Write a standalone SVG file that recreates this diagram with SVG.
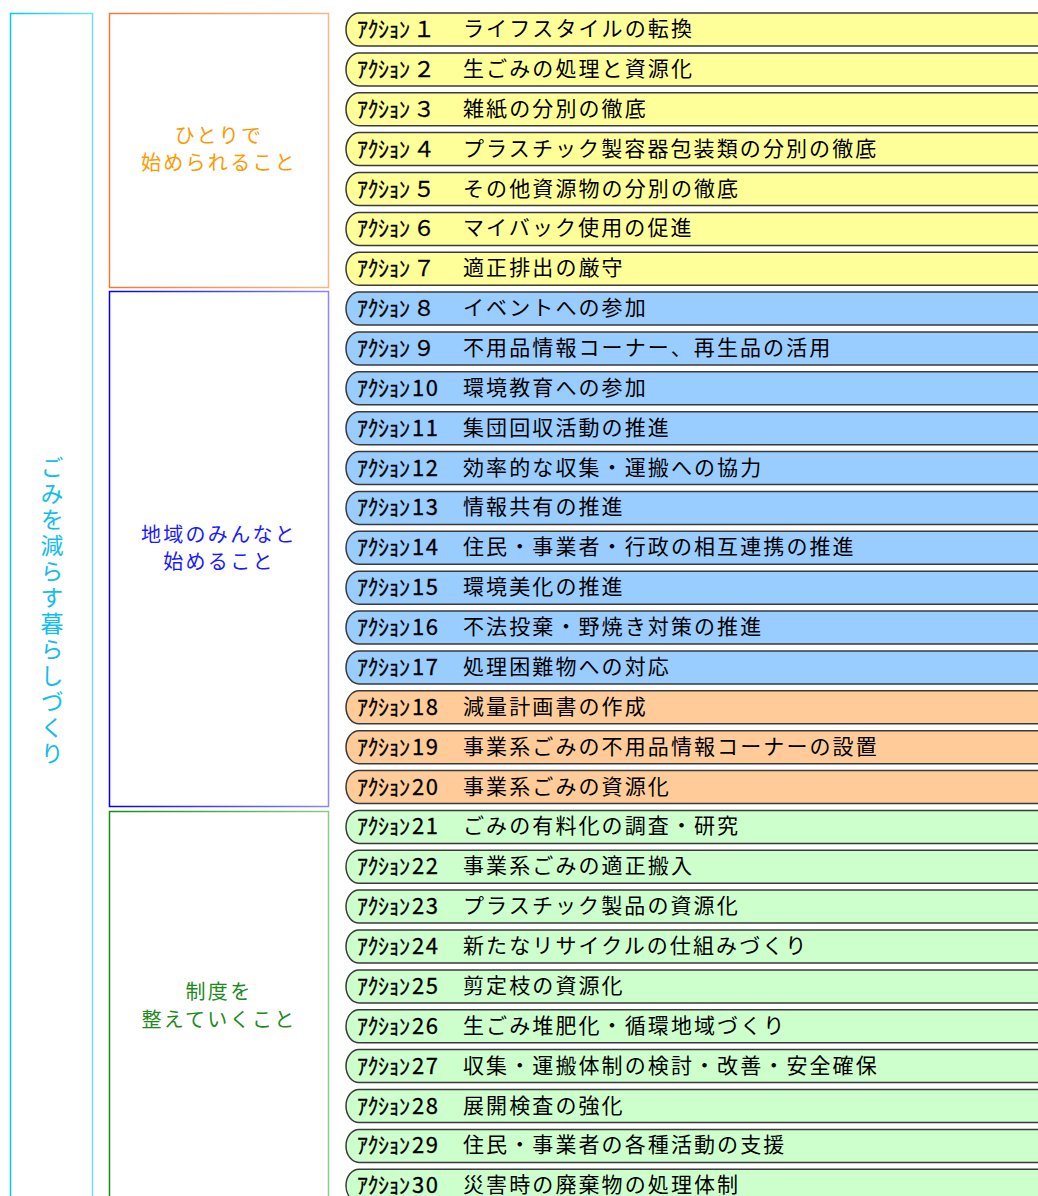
<svg xmlns="http://www.w3.org/2000/svg" xmlns:xlink="http://www.w3.org/1999/xlink" width="1038" height="1196" viewBox="0 0 1038 1196">
<style>
.bar{stroke:#3a3a3a;stroke-width:1.5}
.y{fill:#FFFF99}.b{fill:#99CCFF}.o{fill:#FFCC99}.g{fill:#CCFFCC}
.pre{font-family:"Noto Sans CJK JP","Noto Sans",sans-serif;font-size:22px;fill:#000;stroke:#000;stroke-width:0.3}
.ttl{font-family:"Noto Sans CJK JP",sans-serif;font-size:21px;letter-spacing:2.1px;fill:#000}
.cat{font-family:"Noto Sans CJK JP",sans-serif;font-size:20px;letter-spacing:2.3px;text-anchor:middle}
</style>
<defs>
<path id="bar" d="M1045 0H359A13 16.5 0 0 0 359 33H1045"/>
<linearGradient id="gc" x1="0" y1="0" x2="1" y2="0"><stop offset="0" stop-color="#00C8FF"/><stop offset="1" stop-color="#70DDFF"/></linearGradient>
<linearGradient id="go" x1="0" y1="0" x2="1" y2="0"><stop offset="0" stop-color="#F07A30"/><stop offset="1" stop-color="#FFB485"/></linearGradient>
<linearGradient id="gb" x1="0" y1="0" x2="1" y2="0"><stop offset="0" stop-color="#0000FF"/><stop offset="1" stop-color="#8888FF"/></linearGradient>
<linearGradient id="gg" x1="0" y1="0" x2="1" y2="0"><stop offset="0" stop-color="#1A8A1A"/><stop offset="1" stop-color="#8CCB8C"/></linearGradient>
</defs>
<rect width="1038" height="1196" fill="#fff"/>

<g id="main">
<rect x="10.5" y="13.5" width="82" height="1200" fill="none" stroke="url(#gc)" stroke-width="1.5"/>
<text x="52" y="456" style="writing-mode:vertical-rl" font-family="Noto Sans CJK JP,sans-serif" font-size="23" letter-spacing="3" fill="#12BDF0">ごみを減らす暮らしづくり</text>
</g>

<g id="cat1">
<rect x="109.5" y="13.5" width="219" height="274" fill="none" stroke="url(#go)" stroke-width="1.5"/>
<text class="cat" fill="#FF9900"><tspan x="219" y="143">ひとりで</tspan><tspan x="219" y="170">始められること</tspan></text>
</g>
<g id="cat2">
<rect x="109.5" y="291.5" width="219" height="515" fill="none" stroke="url(#gb)" stroke-width="1.5"/>
<text class="cat" fill="#1A1AFF"><tspan x="219" y="542">地域のみんなと</tspan><tspan x="219" y="569">始めること</tspan></text>
</g>
<g id="cat3">
<rect x="109.5" y="811.5" width="219" height="400" fill="none" stroke="url(#gg)" stroke-width="1.5"/>
<text class="cat" fill="#1A8A1A"><tspan x="219" y="999">制度を</tspan><tspan x="219" y="1027">整えていくこと</tspan></text>
</g>

<g id="actions">
<g id="a1" transform="translate(0,13)"><use xlink:href="#bar" class="bar y"/><text class="pre" x="357" y="24" textLength="53">ｱｸｼｮﾝ</text><text class="pre" x="413" y="24">１</text><text class="ttl" x="463" y="23">ライフスタイルの転換</text></g>
<g id="a2" transform="translate(0,52.9)"><use xlink:href="#bar" class="bar y"/><text class="pre" x="357" y="24" textLength="53">ｱｸｼｮﾝ</text><text class="pre" x="413" y="24">２</text><text class="ttl" x="463" y="23">生ごみの処理と資源化</text></g>
<g id="a3" transform="translate(0,92.7)"><use xlink:href="#bar" class="bar y"/><text class="pre" x="357" y="24" textLength="53">ｱｸｼｮﾝ</text><text class="pre" x="413" y="24">３</text><text class="ttl" x="463" y="23">雑紙の分別の徹底</text></g>
<g id="a4" transform="translate(0,132.6)"><use xlink:href="#bar" class="bar y"/><text class="pre" x="357" y="24" textLength="53">ｱｸｼｮﾝ</text><text class="pre" x="413" y="24">４</text><text class="ttl" x="463" y="23">プラスチック製容器包装類の分別の徹底</text></g>
<g id="a5" transform="translate(0,172.5)"><use xlink:href="#bar" class="bar y"/><text class="pre" x="357" y="24" textLength="53">ｱｸｼｮﾝ</text><text class="pre" x="413" y="24">５</text><text class="ttl" x="463" y="23">その他資源物の分別の徹底</text></g>
<g id="a6" transform="translate(0,212.4)"><use xlink:href="#bar" class="bar y"/><text class="pre" x="357" y="24" textLength="53">ｱｸｼｮﾝ</text><text class="pre" x="413" y="24">６</text><text class="ttl" x="463" y="23">マイバック使用の促進</text></g>
<g id="a7" transform="translate(0,252.2)"><use xlink:href="#bar" class="bar y"/><text class="pre" x="357" y="24" textLength="53">ｱｸｼｮﾝ</text><text class="pre" x="413" y="24">７</text><text class="ttl" x="463" y="23">適正排出の厳守</text></g>
<g id="a8" transform="translate(0,292.1)"><use xlink:href="#bar" class="bar b"/><text class="pre" x="357" y="24" textLength="53">ｱｸｼｮﾝ</text><text class="pre" x="413" y="24">８</text><text class="ttl" x="463" y="23">イベントへの参加</text></g>
<g id="a9" transform="translate(0,332)"><use xlink:href="#bar" class="bar b"/><text class="pre" x="357" y="24" textLength="53">ｱｸｼｮﾝ</text><text class="pre" x="413" y="24">９</text><text class="ttl" x="463" y="23">不用品情報コーナー、再生品の活用</text></g>
<g id="a10" transform="translate(0,371.8)"><use xlink:href="#bar" class="bar b"/><text class="pre" x="357" y="24" textLength="53">ｱｸｼｮﾝ</text><text class="pre" x="412" y="24" textLength="26">10</text><text class="ttl" x="463" y="23">環境教育への参加</text></g>
<g id="a11" transform="translate(0,411.7)"><use xlink:href="#bar" class="bar b"/><text class="pre" x="357" y="24" textLength="53">ｱｸｼｮﾝ</text><text class="pre" x="412" y="24" textLength="26">11</text><text class="ttl" x="463" y="23">集団回収活動の推進</text></g>
<g id="a12" transform="translate(0,451.6)"><use xlink:href="#bar" class="bar b"/><text class="pre" x="357" y="24" textLength="53">ｱｸｼｮﾝ</text><text class="pre" x="412" y="24" textLength="26">12</text><text class="ttl" x="463" y="23">効率的な収集・運搬への協力</text></g>
<g id="a13" transform="translate(0,491.4)"><use xlink:href="#bar" class="bar b"/><text class="pre" x="357" y="24" textLength="53">ｱｸｼｮﾝ</text><text class="pre" x="412" y="24" textLength="26">13</text><text class="ttl" x="463" y="23">情報共有の推進</text></g>
<g id="a14" transform="translate(0,531.3)"><use xlink:href="#bar" class="bar b"/><text class="pre" x="357" y="24" textLength="53">ｱｸｼｮﾝ</text><text class="pre" x="412" y="24" textLength="26">14</text><text class="ttl" x="463" y="23">住民・事業者・行政の相互連携の推進</text></g>
<g id="a15" transform="translate(0,571.2)"><use xlink:href="#bar" class="bar b"/><text class="pre" x="357" y="24" textLength="53">ｱｸｼｮﾝ</text><text class="pre" x="412" y="24" textLength="26">15</text><text class="ttl" x="463" y="23">環境美化の推進</text></g>
<g id="a16" transform="translate(0,611)"><use xlink:href="#bar" class="bar b"/><text class="pre" x="357" y="24" textLength="53">ｱｸｼｮﾝ</text><text class="pre" x="412" y="24" textLength="26">16</text><text class="ttl" x="463" y="23">不法投棄・野焼き対策の推進</text></g>
<g id="a17" transform="translate(0,650.9)"><use xlink:href="#bar" class="bar b"/><text class="pre" x="357" y="24" textLength="53">ｱｸｼｮﾝ</text><text class="pre" x="412" y="24" textLength="26">17</text><text class="ttl" x="463" y="23">処理困難物への対応</text></g>
<g id="a18" transform="translate(0,690.8)"><use xlink:href="#bar" class="bar o"/><text class="pre" x="357" y="24" textLength="53">ｱｸｼｮﾝ</text><text class="pre" x="412" y="24" textLength="26">18</text><text class="ttl" x="463" y="23">減量計画書の作成</text></g>
<g id="a19" transform="translate(0,730.7)"><use xlink:href="#bar" class="bar o"/><text class="pre" x="357" y="24" textLength="53">ｱｸｼｮﾝ</text><text class="pre" x="412" y="24" textLength="26">19</text><text class="ttl" x="463" y="23">事業系ごみの不用品情報コーナーの設置</text></g>
<g id="a20" transform="translate(0,770.5)"><use xlink:href="#bar" class="bar o"/><text class="pre" x="357" y="24" textLength="53">ｱｸｼｮﾝ</text><text class="pre" x="412" y="24" textLength="26">20</text><text class="ttl" x="463" y="23">事業系ごみの資源化</text></g>
<g id="a21" transform="translate(0,810.4)"><use xlink:href="#bar" class="bar g"/><text class="pre" x="357" y="24" textLength="53">ｱｸｼｮﾝ</text><text class="pre" x="412" y="24" textLength="26">21</text><text class="ttl" x="463" y="23">ごみの有料化の調査・研究</text></g>
<g id="a22" transform="translate(0,850.3)"><use xlink:href="#bar" class="bar g"/><text class="pre" x="357" y="24" textLength="53">ｱｸｼｮﾝ</text><text class="pre" x="412" y="24" textLength="26">22</text><text class="ttl" x="463" y="23">事業系ごみの適正搬入</text></g>
<g id="a23" transform="translate(0,890.1)"><use xlink:href="#bar" class="bar g"/><text class="pre" x="357" y="24" textLength="53">ｱｸｼｮﾝ</text><text class="pre" x="412" y="24" textLength="26">23</text><text class="ttl" x="463" y="23">プラスチック製品の資源化</text></g>
<g id="a24" transform="translate(0,930)"><use xlink:href="#bar" class="bar g"/><text class="pre" x="357" y="24" textLength="53">ｱｸｼｮﾝ</text><text class="pre" x="412" y="24" textLength="26">24</text><text class="ttl" x="463" y="23">新たなリサイクルの仕組みづくり</text></g>
<g id="a25" transform="translate(0,969.9)"><use xlink:href="#bar" class="bar g"/><text class="pre" x="357" y="24" textLength="53">ｱｸｼｮﾝ</text><text class="pre" x="412" y="24" textLength="26">25</text><text class="ttl" x="463" y="23">剪定枝の資源化</text></g>
<g id="a26" transform="translate(0,1009.8)"><use xlink:href="#bar" class="bar g"/><text class="pre" x="357" y="24" textLength="53">ｱｸｼｮﾝ</text><text class="pre" x="412" y="24" textLength="26">26</text><text class="ttl" x="463" y="23">生ごみ堆肥化・循環地域づくり</text></g>
<g id="a27" transform="translate(0,1049.6)"><use xlink:href="#bar" class="bar g"/><text class="pre" x="357" y="24" textLength="53">ｱｸｼｮﾝ</text><text class="pre" x="412" y="24" textLength="26">27</text><text class="ttl" x="463" y="23">収集・運搬体制の検討・改善・安全確保</text></g>
<g id="a28" transform="translate(0,1089.5)"><use xlink:href="#bar" class="bar g"/><text class="pre" x="357" y="24" textLength="53">ｱｸｼｮﾝ</text><text class="pre" x="412" y="24" textLength="26">28</text><text class="ttl" x="463" y="23">展開検査の強化</text></g>
<g id="a29" transform="translate(0,1129.4)"><use xlink:href="#bar" class="bar g"/><text class="pre" x="357" y="24" textLength="53">ｱｸｼｮﾝ</text><text class="pre" x="412" y="24" textLength="26">29</text><text class="ttl" x="463" y="23">住民・事業者の各種活動の支援</text></g>
<g id="a30" transform="translate(0,1169.2)"><use xlink:href="#bar" class="bar g"/><text class="pre" x="357" y="24" textLength="53">ｱｸｼｮﾝ</text><text class="pre" x="412" y="24" textLength="26">30</text><text class="ttl" x="463" y="23">災害時の廃棄物の処理体制</text></g>
</g>
</svg>
